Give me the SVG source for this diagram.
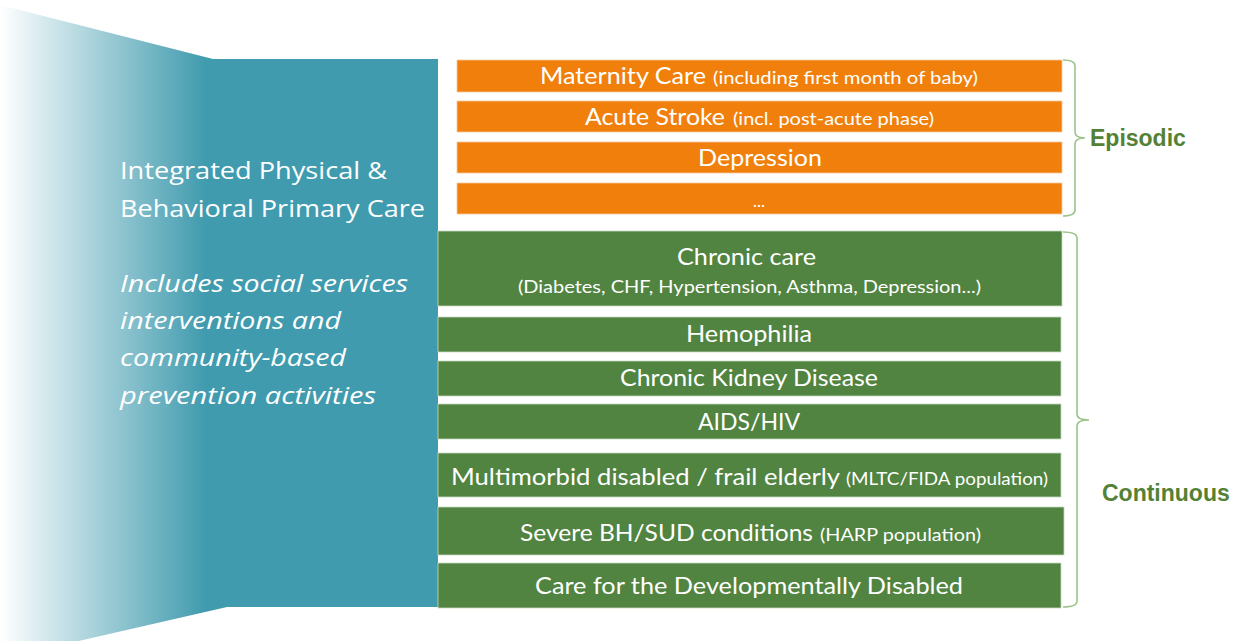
<svg xmlns="http://www.w3.org/2000/svg" width="1237" height="641" viewBox="0 0 1237 641">
<defs>
<linearGradient id="fade" x1="0" y1="0" x2="438" y2="0" gradientUnits="userSpaceOnUse">
<stop offset="0" stop-color="#409BAE" stop-opacity="0"/>
<stop offset="0.47" stop-color="#409BAE" stop-opacity="1"/>
<stop offset="1" stop-color="#409BAE"/>
</linearGradient>
<style>
.or{fill:#F0800B;stroke:#F6C9A0;stroke-width:0.8}
.gr{fill:#508440;stroke:#C9DBC0;stroke-width:0.8}
.bt{font-family:Lato,"Liberation Sans",sans-serif;fill:#FFFFFF}
.big{font-size:24px}
.sm{font-size:17px}
.lt{font-family:"Open Sans","Liberation Sans",sans-serif;fill:#FFFFFF;font-size:24px}
.it{font-style:italic}
.lbl{font-family:"Liberation Sans",Arial,sans-serif;font-weight:bold;font-size:23px;fill:#538135}
.br{fill:none;stroke:#9CC48A;stroke-width:1.6}
</style>
</defs>
<g id="primary-care">
<path d="M0,5 L213,59 L438,59 L438,607 L227,607 L0,659 Z" fill="url(#fade)"/>
<text class="lt" x="120" y="179" textLength="267" lengthAdjust="spacingAndGlyphs">Integrated Physical &amp;</text>
<text class="lt" x="120" y="217" textLength="305" lengthAdjust="spacingAndGlyphs">Behavioral Primary Care</text>
<text class="lt it" x="120" y="292" textLength="288" lengthAdjust="spacingAndGlyphs">Includes social services</text>
<text class="lt it" x="120" y="329" textLength="221" lengthAdjust="spacingAndGlyphs">interventions and</text>
<text class="lt it" x="120" y="366" textLength="226" lengthAdjust="spacingAndGlyphs">community-based</text>
<text class="lt it" x="120" y="404" textLength="256" lengthAdjust="spacingAndGlyphs">prevention activities</text>
</g>
<g id="maternity">
<rect class="or" x="457" y="60" width="605" height="32"/>
<text class="bt big" x="540" y="84" textLength="166" lengthAdjust="spacingAndGlyphs">Maternity Care</text>
<text class="bt sm" x="713" y="84" textLength="265" lengthAdjust="spacingAndGlyphs">(including first month of baby)</text>
</g>
<g id="acute-stroke">
<rect class="or" x="457" y="101" width="605" height="31"/>
<text class="bt big" x="585" y="125" textLength="140" lengthAdjust="spacingAndGlyphs">Acute Stroke</text>
<text class="bt sm" x="733" y="125" textLength="201" lengthAdjust="spacingAndGlyphs">(incl. post-acute phase)</text>
</g>
<g id="depression">
<rect class="or" x="457" y="142" width="605" height="31"/>
<text class="bt big" x="698" y="166" textLength="124" lengthAdjust="spacingAndGlyphs">Depression</text>
</g>
<g id="more">
<rect class="or" x="457" y="183" width="605" height="31"/>
<text class="bt sm" x="759" y="207" text-anchor="middle">...</text>
</g>
<g id="chronic-care">
<rect class="gr" x="438" y="231" width="624" height="75"/>
<text class="bt big" x="677" y="265" textLength="139" lengthAdjust="spacingAndGlyphs">Chronic care</text>
<text class="bt sm" x="518" y="293" textLength="463" lengthAdjust="spacingAndGlyphs">(Diabetes, CHF, Hypertension, Asthma, Depression...)</text>
</g>
<g id="hemophilia">
<rect class="gr" x="438" y="317" width="623" height="35"/>
<text class="bt big" x="686" y="342" textLength="126" lengthAdjust="spacingAndGlyphs">Hemophilia</text>
</g>
<g id="ckd">
<rect class="gr" x="438" y="361" width="623" height="35"/>
<text class="bt big" x="620" y="386" textLength="258" lengthAdjust="spacingAndGlyphs">Chronic Kidney Disease</text>
</g>
<g id="aids-hiv">
<rect class="gr" x="438" y="404" width="623" height="35"/>
<text class="bt big" x="698" y="430" textLength="102" lengthAdjust="spacingAndGlyphs">AIDS/HIV</text>
</g>
<g id="multimorbid">
<rect class="gr" x="438" y="453" width="623" height="44"/>
<text class="bt big" x="451" y="485" textLength="389" lengthAdjust="spacingAndGlyphs">Multimorbid disabled / frail elderly</text>
<text class="bt sm" x="846" y="485" textLength="202" lengthAdjust="spacingAndGlyphs">(MLTC/FIDA population)</text>
</g>
<g id="severe-bh">
<rect class="gr" x="438" y="507" width="626" height="48"/>
<text class="bt big" x="520" y="541" textLength="293" lengthAdjust="spacingAndGlyphs">Severe BH/SUD conditions</text>
<text class="bt sm" x="820" y="541" textLength="161" lengthAdjust="spacingAndGlyphs">(HARP population)</text>
</g>
<g id="dev-disabled">
<rect class="gr" x="438" y="563" width="623" height="45"/>
<text class="bt big" x="535" y="594" textLength="428" lengthAdjust="spacingAndGlyphs">Care for the Developmentally Disabled</text>
</g>
<g id="connectors">
<path class="br" d="M1063,60 Q1075,60 1075,66 L1075,132 Q1075,138 1085,138 Q1075,138 1075,144 L1075,210 Q1075,216 1063,216"/>
<path class="br" d="M1063,232 Q1077,232 1077,238 L1077,414 Q1077,420 1089,420 Q1077,420 1077,426 L1077,601 Q1077,607 1063,607"/>
</g>
<g id="episodic-label">
<text class="lbl" x="1090" y="146">Episodic</text>
</g>
<g id="continuous-label">
<text class="lbl" x="1102" y="501">Continuous</text>
</g>
</svg>
